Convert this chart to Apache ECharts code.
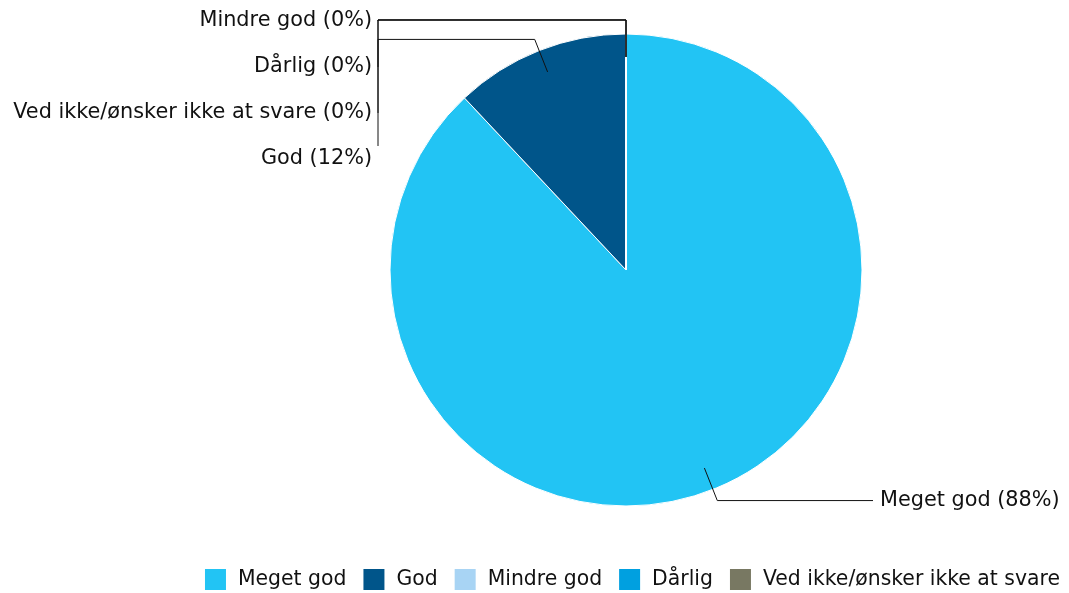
<!DOCTYPE html>
<html>
<head>
<meta charset="utf-8">
<script src="https://cdn.jsdelivr.net/npm/echarts@6/dist/echarts.min.js"></script>
<style>html,body{margin:0;padding:0;background:#fff}#c{width:1069px;height:593px}</style>
</head>
<body>
<div id="c"></div>
<script>
var categories = ['Meget god', 'God', 'Mindre god', 'Dårlig', 'Ved ikke/ønsker ikke at svare'];
var values = [88, 12, 0, 0, 0];
var colors = ['#22c4f4', '#00558a', '#a8d4f4', '#00a0e0', '#787862'];

var chart = echarts.init(document.getElementById('c'));
var CX = 0.5856, CY = 0.4553, R = 236;
// order of left-side labels from top
var leftOrder = [2, 3, 4, 1];

function layout(params) {
  var w = chart.getWidth(), h = chart.getHeight();
  var cx = w * CX, cy = h * CY;
  var i = params.dataIndex;
  var p0 = params.labelLinePoints ? params.labelLinePoints[0] : [cx, cy - R];
  var dx = p0[0] - cx, dy = p0[1] - cy;
  var len = Math.sqrt(dx * dx + dy * dy) || 1;
  dx /= len; dy /= len;
  var a = [cx + dx * (R - 23), cy + dy * (R - 23)];
  var ext = values[i] > 0 ? 12 : 14;
  var b = [cx + dx * (R + ext), cy + dy * (R + ext)];
  if (i === 0) {
    var xe = cx + 247;
    return {
      x: xe + 7, y: b[1], align: 'left', verticalAlign: 'middle',
      labelLinePoints: [a, b, [xe, b[1]]]
    };
  }
  var xl = cx - 248;
  var k = leftOrder.indexOf(i);
  var ly = cy - R - 13 + k * 46;
  if (i === 1) {
    return {
      x: xl - 6, y: ly, align: 'right', verticalAlign: 'middle',
      labelLinePoints: [a, b, [xl, b[1]], [xl, ly - 13]]
    };
  }
  return {
    x: xl - 6, y: ly, align: 'right', verticalAlign: 'middle',
    labelLinePoints: [a, b, [xl, b[1]], [xl, ly]]
  };
}

var pieData = categories.map(function (c, i) { return { name: c, value: values[i] }; });
var common = {
  type: 'pie',
  center: [(CX * 100) + '%', (CY * 100) + '%'],
  radius: R,
  startAngle: 90,
  clockwise: true,
  avoidLabelOverlap: false,
  emphasis: { disabled: true },
  data: pieData
};

chart.setOption({
  animation: false,
  color: colors,
  textStyle: { fontFamily: 'DejaVu Sans' },
  legend: {
    data: categories,
    right: 4,
    top: 562,
    icon: 'rect',
    itemWidth: 23,
    itemHeight: 23,
    itemGap: 15,
    textStyle: { fontSize: 20.4, color: '#111', fontFamily: 'DejaVu Sans', padding: [0, 0, 0, 6] }
  },
  series: [
    Object.assign({}, common, {
      z: 2,
      itemStyle: { borderColor: '#fff', borderWidth: 1 },
      label: { show: false },
      labelLine: { show: false }
    }),
    Object.assign({}, common, {
      z: 5,
      silent: true,
      legendHoverLink: false,
      itemStyle: { color: 'rgba(0,0,0,0)', borderWidth: 0 },
      label: {
        show: true,
        formatter: '{b} ({d}%)',
        fontSize: 20.8,
        color: '#111',
        fontFamily: 'DejaVu Sans'
      },
      labelLine: { show: true, length: 14, length2: 20, lineStyle: { color: '#111', width: 1 } },
      labelLayout: layout
    })
  ]
});
</script>
</body>
</html>
